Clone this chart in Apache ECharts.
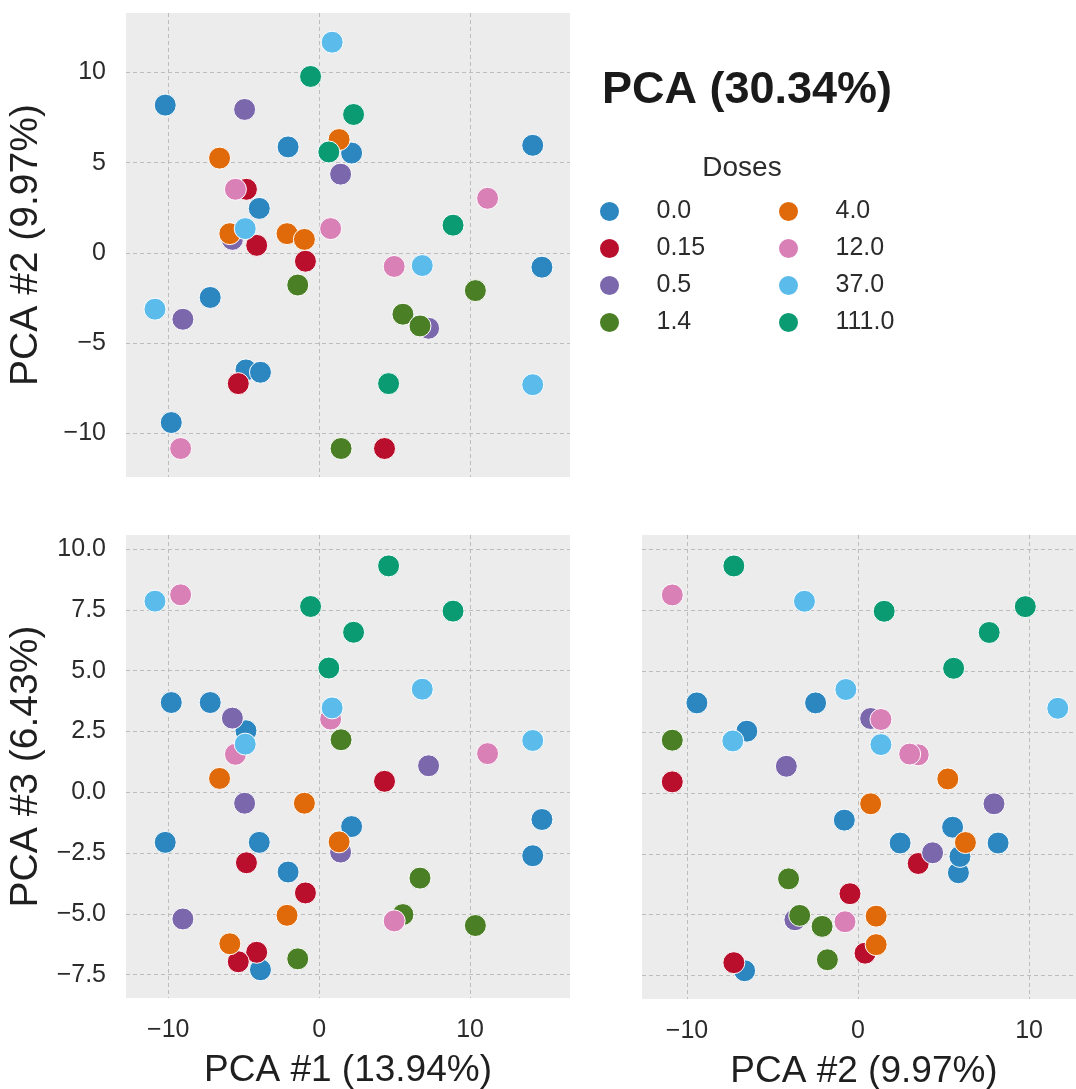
<!DOCTYPE html>
<html>
<head>
<meta charset="utf-8">
<script src="https://cdn.jsdelivr.net/npm/echarts@6/dist/echarts.min.js"></script>
<style>
  html, body { margin: 0; padding: 0; background: #fff; }
  #chart { width: 1076px; height: 1089px; }
</style>
</head>
<body>
<div id="chart"></div>
<script>
// dose groups (legend order) and their colours
const doses = ['0.0', '0.15', '0.5', '1.4', '4.0', '12.0', '37.0', '111.0']
const doseColors = ['#2c86c0', '#b90e2c', '#7b67ab', '#4b7f25', '#e06a0a', '#d980b7', '#5bbcec', '#0b9b72']

// one entry per sample: dose group and the first three principal components
const sampleDose = [
  '0.0', '0.0', '0.0', '0.0', '0.0', '0.0', '0.0', '0.0', '0.0', '0.0',
  '0.15', '0.15', '0.15', '0.15', '0.15',
  '0.5', '0.5', '0.5', '0.5', '0.5',
  '1.4', '1.4', '1.4', '1.4', '1.4',
  '4.0', '4.0', '4.0', '4.0', '4.0',
  '12.0', '12.0', '12.0', '12.0', '12.0',
  '37.0', '37.0', '37.0', '37.0', '37.0',
  '111.0', '111.0', '111.0', '111.0', '111.0'
]
const pc1 = [
  -10.2, -2.06, 2.15, 14.15, -3.97, 14.76, -7.22, -4.85, -3.89, -9.8,
  -4.82, -4.14, -0.91, -5.36, 4.33,
  -4.94, 1.42, -9.03, 7.25, -5.75,
  -1.42, 10.35, 5.55, 6.68, 1.45,
  1.32, -6.6, -5.92, -2.13, -0.98,
  -5.55, 11.16, 0.76, 4.97, -9.18,
  0.86, -4.9, 6.83, -10.88, 14.15,
  -0.57, 2.28, 0.64, 8.87, 4.6
]
const pc2 = [
  8.19, 5.87, 5.53, 5.96, 2.46, -0.8, -2.48, -6.5, -6.63, -9.42,
  3.52, 0.41, -0.47, -7.26, -10.86,
  7.95, 4.36, -3.69, -4.19, 0.74,
  -1.79, -2.1, -3.41, -4.06, -10.86,
  6.28, 5.25, 1.06, 1.06, 0.74,
  3.52, 3.02, 1.34, -0.76, -10.86,
  11.68, 1.34, -0.71, -3.13, -7.32,
  9.78, 7.67, 5.59, 1.53, -7.26
]
const pc3 = [
  -2.06, -3.28, -1.41, -2.61, -2.06, -1.12, 3.69, 2.53, -7.3, 3.69,
  -2.9, -6.58, -4.14, -6.97, 0.45,
  -0.45, -2.46, -5.21, 1.09, 3.05,
  -6.85, -5.48, -5.03, -3.53, 2.16,
  -2.04, 0.57, -6.23, -5.06, -0.45,
  1.56, 1.59, 3.01, -5.29, 8.12,
  3.47, 1.98, 4.24, 7.86, 2.13,
  7.64, 6.58, 5.11, 7.45, 9.31
]

// tick labels
const ticksPC1 = [-10, 0, 10]
const ticksPC2 = [-10, -5, 0, 5, 10]
const ticksPC2x = [-10, 0, 10]
const ticksPC3 = [-7.5, -5, -2.5, 0, 2.5, 5, 7.5, 10]

const FONT = '"Liberation Sans", Arial, Helvetica, sans-serif'
const TXT = '#2b2b2b'

const fmt = (digits) => (v) => (digits ? v.toFixed(digits) : String(v)).replace('-', '\u2212')

function axis(gridIndex, min, max, ticks, opts) {
  return {
    type: 'value',
    gridIndex: gridIndex,
    min: min,
    max: max,
    name: opts.name || '',
    nameLocation: 'middle',
    nameGap: opts.nameGap || 0,
    nameTextStyle: { fontSize: opts.nameSize || 37, color: '#1f1f1f', fontFamily: FONT },
    axisLine: { show: false },
    axisTick: { show: false, customValues: ticks },
    axisLabel: {
      show: opts.labels !== false,
      customValues: ticks,
      formatter: fmt(opts.digits || 0),
      fontSize: 25,
      color: TXT,
      fontFamily: FONT,
      margin: opts.margin || 18
    },
    splitLine: { show: true, lineStyle: { color: '#bdbdbd', width: 1, type: [4, 3] } }
  }
}

const gridBase = { show: true, backgroundColor: '#ececec', borderWidth: 0, outerBoundsMode: 'none' }

// panels: [x values, y values]
const panels = [[pc1, pc2], [pc1, pc3], [pc2, pc3]]

const series = []
panels.forEach((p, idx) => {
  doses.forEach((d, k) => {
    const data = []
    sampleDose.forEach((sd, i) => {
      if (sd === d) data.push([p[0][i], p[1][i]])
    })
    series.push({
      type: 'scatter',
      name: d,
      xAxisIndex: idx,
      yAxisIndex: idx,
      data: data,
      symbol: 'circle',
      symbolSize: 22,
      itemStyle: { color: doseColors[k], borderColor: '#ffffff', borderWidth: 1, opacity: 1 },
      emphasis: { disabled: true },
      animation: false
    })
  })
})

const legendBase = {
  orient: 'vertical',
  icon: 'circle',
  itemWidth: 84,
  itemHeight: 21,
  itemGap: 12,
  padding: 0,
  selectedMode: false,
  textStyle: { fontSize: 25, color: TXT, fontFamily: FONT }
}

const option = {
  animation: false,
  color: doseColors,
  title: [
    {
      text: 'PCA (30.34%)', left: 747, top: 68, textAlign: 'center', padding: 0,
      textStyle: { fontSize: 45, fontWeight: 'bold', color: '#1a1a1a', fontFamily: FONT }
    },
    {
      text: 'Doses', left: 742, top: 154, textAlign: 'center', padding: 0,
      textStyle: { fontSize: 28, fontWeight: 'normal', color: TXT, fontFamily: FONT }
    }
  ],
  legend: [
    Object.assign({}, legendBase, { left: 598, top: 199, data: doses.slice(0, 4) }),
    Object.assign({}, legendBase, { left: 777, top: 199, data: doses.slice(4) })
  ],
  grid: [
    Object.assign({ left: 126, top: 13, width: 444, height: 464 }, gridBase),
    Object.assign({ left: 126, top: 535, width: 444, height: 463 }, gridBase),
    Object.assign({ left: 642, top: 535, width: 444, height: 464 }, gridBase)
  ],
  xAxis: [
    axis(0, -12.8, 16.62, ticksPC1, { labels: false }),
    axis(1, -12.8, 16.62, ticksPC1, { name: 'PCA #1 (13.94%)', nameGap: 54, margin: 20 }),
    axis(2, -12.63, 13.33, ticksPC2x, { name: 'PCA #2 (9.97%)', nameGap: 54, margin: 20 })
  ],
  yAxis: [
    axis(0, -12.44, 13.3, ticksPC2, { name: 'PCA #2 (9.97%)', nameGap: 80, nameSize: 39, margin: 20 }),
    axis(1, -8.46, 10.58, ticksPC3, { name: 'PCA #3 (6.43%)', nameGap: 80, nameSize: 39, margin: 20, digits: 1 }),
    axis(2, -8.46, 10.58, ticksPC3, { labels: false })
  ],
  series: series
}

const chart = echarts.init(document.getElementById('chart'))
chart.setOption(option)
</script>
</body>
</html>
